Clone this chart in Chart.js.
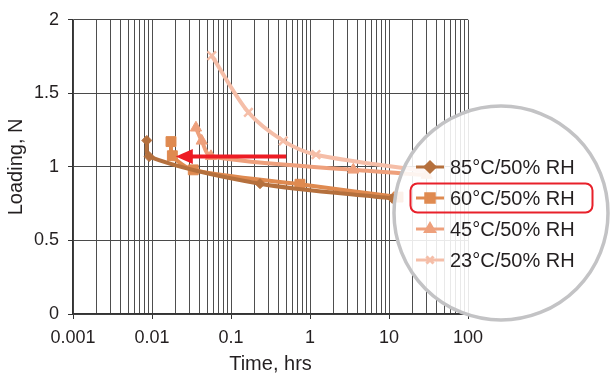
<!DOCTYPE html>
<html>
<head>
<meta charset="utf-8">
<title>Loading vs time</title>
<style>
  body { margin: 0; background: #fff; }
  #chart { display: block; }
</style>
</head>
<body>
<canvas id="chart" width="610" height="376"></canvas>
<script src="https://cdn.jsdelivr.net/npm/chart.js@4/dist/chart.umd.min.js"></script>
<script>
// series names, colours and marker shapes
const seriesNames = ['85°C/50% RH', '60°C/50% RH', '45°C/50% RH', '23°C/50% RH'];
const seriesColors = ['#b5703d', '#df8a50', '#eea07c', '#f5bea8'];
const seriesMarkers = ['rectRot', 'rect', 'triangle', 'crossRot'];

// time in hours, loading in N (last points sit under the lens)
const time85 = [0.0086, 0.0092, 0.233, 11];
const load85 = [1.18, 1.07, 0.886, 0.786];
const time60 = [0.0174, 0.0181, 0.0333, 0.746, 13];
const load60 = [1.172, 1.076, 0.98, 0.882, 0.795];
const time45 = [0.036, 0.0426, 0.0558, 3.53, 30];
const load45 = [1.266, 1.177, 1.072, 0.98, 0.945];
const time23 = [0.057, 0.166, 0.459, 1.19, 30];
const load23 = [1.757, 1.371, 1.177, 1.083, 0.97];

// axes
const xTickLabels = ['0.001', '0.01', '0.1', '1', '10', '100'];
const yTicks = [0, 0.5, 1, 1.5, 2];
const yTickLabels = ['0', '0.5', '1', '1.5', '2'];

// red arrow pointing at the 60°C curve (hrs from -> to, at loading)
const arrowFrom = 0.5;
const arrowTo = 0.02;
const arrowLoad = 1.07;

const FONT = '"Liberation Sans", Arial, Helvetica, sans-serif';
const TEXT = '#231f20';

function pts(t, v) {
  return t.map((x, i) => ({ x: x, y: v[i] }));
}

const decades = xTickLabels.map(Number);
const xTickValues = [];
decades.forEach((d, i) => {
  if (i === decades.length - 1) { xTickValues.push(d); return; }
  for (let k = 1; k <= 9; k++) xTickValues.push(parseFloat((k * d).toPrecision(6)));
});
function isDecade(v) {
  const l = Math.log10(v);
  return Math.abs(l - Math.round(l)) < 1e-9;
}

const allData = [[time85, load85], [time60, load60], [time45, load45], [time23, load23]];
const markerSizes = [5, 7, 6.5, 6];

const datasets = allData.map((d, i) => ({
  label: seriesNames[i],
  data: pts(d[0], d[1]),
  borderColor: seriesColors[i],
  backgroundColor: seriesColors[i],
  pointBackgroundColor: seriesColors[i],
  pointBorderColor: seriesColors[i],
  pointStyle: seriesMarkers[i],
  pointRadius: markerSizes[i],
  pointBorderWidth: seriesMarkers[i] === 'crossRot' ? 2.5 : 1,
  borderWidth: 4,
  tension: 0.3,
  fill: false
}));

// arrow + lens legend drawn on top
const lensPlugin = {
  id: 'lens',
  afterDatasetsDraw(chart) {
    const ctx = chart.ctx;
    const xs = chart.scales.x, ys = chart.scales.y;
    const x0 = xs.getPixelForValue(arrowFrom);
    const x1 = xs.getPixelForValue(arrowTo);
    const ay = ys.getPixelForValue(arrowLoad);
    ctx.save();
    ctx.strokeStyle = '#ed1c24';
    ctx.fillStyle = '#ed1c24';
    ctx.lineWidth = 4;
    ctx.beginPath();
    ctx.moveTo(x0, ay);
    ctx.lineTo(x1 + 14, ay);
    ctx.stroke();
    ctx.beginPath();
    ctx.moveTo(x1, ay);
    ctx.lineTo(x1 + 17, ay - 7.5);
    ctx.lineTo(x1 + 17, ay + 7.5);
    ctx.closePath();
    ctx.fill();
    ctx.restore();
  },
  afterDraw(chart) {
    const ctx = chart.ctx;
    ctx.save();
    ctx.beginPath();
    ctx.arc(501, 213, 107, 0, Math.PI * 2);
    ctx.fillStyle = 'rgba(255,255,255,0.88)';
    ctx.fill();
    ctx.lineWidth = 3.5;
    ctx.strokeStyle = '#c3c3c5';
    ctx.stroke();

    chart.data.datasets.forEach((ds, i) => {
      const cy = 167 + i * 31;
      ctx.strokeStyle = ds.borderColor;
      ctx.fillStyle = ds.borderColor;
      ctx.lineWidth = 3;
      ctx.beginPath();
      ctx.moveTo(416, cy);
      ctx.lineTo(444, cy);
      ctx.stroke();
      Chart.helpers.drawPoint(ctx, {
        pointStyle: ds.pointStyle,
        radius: ds.pointStyle === 'rect' ? 6 : 5,
        rotation: 0,
        borderWidth: ds.pointStyle === 'crossRot' ? 2 : 1
      }, 430, cy);
      ctx.fillStyle = TEXT;
      ctx.font = '20px ' + FONT;
      ctx.textBaseline = 'middle';
      ctx.textAlign = 'left';
      ctx.fillText(ds.label, 450, cy + 1);
    });

    ctx.strokeStyle = '#e8202a';
    ctx.lineWidth = 2;
    ctx.beginPath();
    ctx.roundRect(410.5, 183.5, 182, 29, 7);
    ctx.stroke();
    ctx.restore();
  }
};

new Chart(document.getElementById('chart'), {
  type: 'line',
  data: { datasets: datasets },
  plugins: [lensPlugin],
  options: {
    responsive: false,
    animation: false,
    layout: { padding: { top: 16, right: 142, left: 0, bottom: 0 } },
    plugins: { legend: { display: false }, tooltip: { enabled: false } },
    scales: {
      x: {
        type: 'logarithmic',
        min: decades[0],
        max: decades[decades.length - 1],
        afterBuildTicks(scale) {
          scale.ticks = xTickValues.map(v => ({ value: v, major: isDecade(v) }));
        },
        afterFit(scale) { scale.height = 62; },
        ticks: {
          autoSkip: false,
          maxRotation: 0,
          padding: 8,
          color: TEXT,
          font: { family: FONT, size: 18 },
          callback(value) {
            if (!isDecade(value)) return '';
            return xTickLabels[decades.findIndex(d => Math.abs(d - value) < d * 1e-6)];
          }
        },
        grid: {
          color: '#4e4e4e',
          lineWidth: 1,
          tickLength: 5,
          tickColor: c => (c.tick && isDecade(c.tick.value)) ? '#333' : 'rgba(0,0,0,0)'
        },
        border: { color: '#333', width: 1.5 },
        title: {
          display: true,
          text: 'Time, hrs',
          color: TEXT,
          font: { family: FONT, size: 20 },
          padding: { top: 0, bottom: 0 }
        }
      },
      y: {
        min: 0,
        max: 2,
        afterBuildTicks(scale) {
          scale.ticks = yTicks.map(v => ({ value: v }));
        },
        afterFit(scale) { scale.width = 73; },
        ticks: {
          padding: 9,
          color: TEXT,
          font: { family: FONT, size: 18 },
          callback(value) {
            const i = yTicks.indexOf(value);
            return i >= 0 ? yTickLabels[i] : '';
          }
        },
        grid: {
          color: '#4a4a4a',
          lineWidth: 1,
          tickLength: 5,
          tickColor: '#333'
        },
        border: { color: '#333', width: 1.5 },
        title: {
          display: true,
          text: 'Loading, N',
          color: TEXT,
          font: { family: FONT, size: 20 },
          padding: { top: 4, bottom: 4 }
        }
      }
    }
  }
});
</script>
</body>
</html>
